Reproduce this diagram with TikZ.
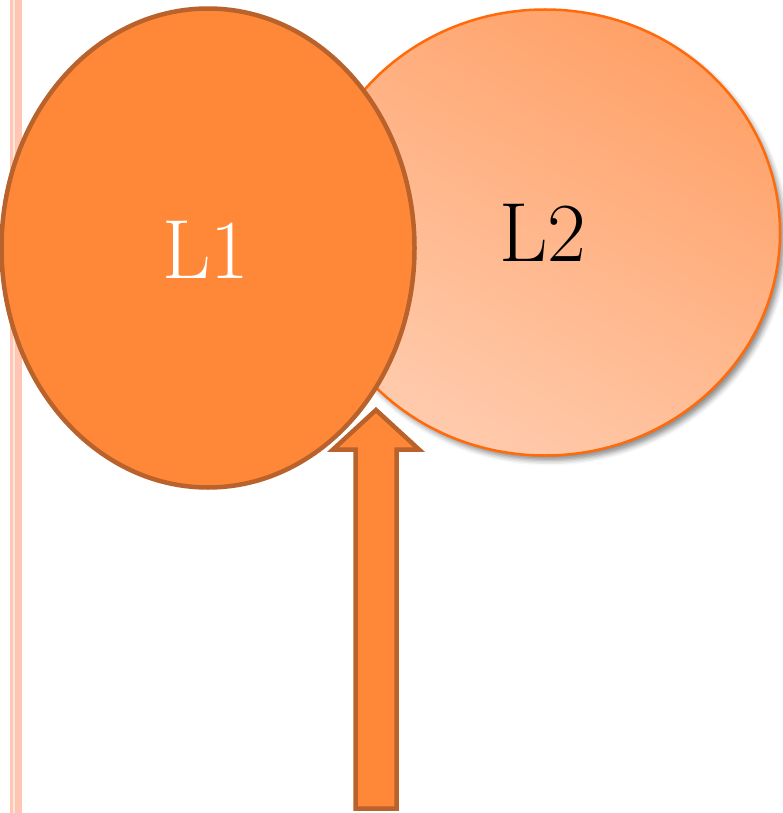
\documentclass[tikz,border=0pt]{standalone}
\usetikzlibrary{shapes.geometric,shadows.blur}
\definecolor{lonefill}{HTML}{FF8838}
\definecolor{lonedraw}{HTML}{B9622B}
\definecolor{ltwoline}{HTML}{FF6A0A}
\definecolor{ltwolight}{HTML}{FFCBAD}
\definecolor{ltwodark}{HTML}{FFA168}
\definecolor{stripe}{HTML}{FFC6B3}
\definecolor{stripelight}{HTML}{FFE6DC}
\tikzset{
  bigtext/.style={font=\fontsize{84}{86}\selectfont, inner sep=0pt},
  lonestyle/.style={ellipse, draw=lonedraw, fill=lonefill, line width=4.5pt, inner sep=0pt},
  ltwostyle/.style={ellipse, draw=ltwoline, line width=2.5pt, inner sep=0pt,
    left color=ltwodark, right color=ltwolight, shading angle=-30,
    blur shadow={shadow xshift=4pt, shadow yshift=-5pt, shadow blur radius=5pt, shadow opacity=45}},
  upstyle/.style={draw=lonedraw, fill=lonefill, line width=4.5pt, line join=miter}
}
\begin{document}
\begin{tikzpicture}[x=1pt,y=-1pt]
\useasboundingbox (0,0) rectangle (782,813);
% left stripes
\fill[stripe] (10,0) rectangle (12.5,813);
\fill[stripelight] (12.5,0) rectangle (15,813);
\fill[stripe] (15,0) rectangle (22,813);
% L2
\node[ltwostyle, minimum width=470pt, minimum height=446pt] (L2) at (545,232.5) {};
\node[bigtext, text=black] (L2lab) at (543,233) {L2};
% L1
\node[lonestyle, minimum width=413pt, minimum height=479pt] (L1) at (208,248) {};
\node[bigtext, text=white] (L1lab) at (206,249.5) {L1};
% arrow
\draw[upstyle] (355.5,808.5) -- (355.5,449.5) -- (333,449.5) -- (376,410) -- (419,449.5) -- (396.5,449.5) -- (396.5,808.5) -- cycle;
\end{tikzpicture}
\end{document}
